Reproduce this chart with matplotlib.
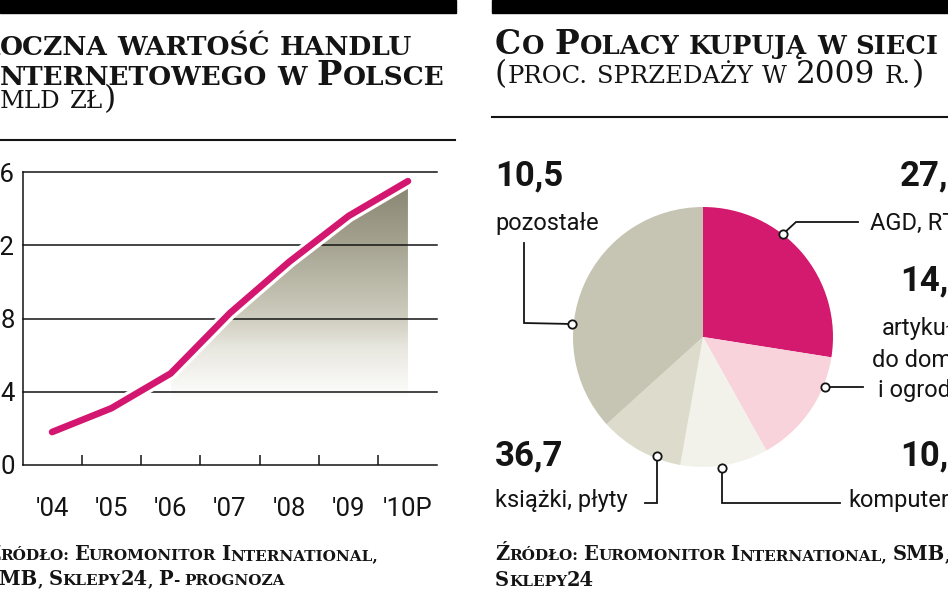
import numpy as np
import matplotlib
matplotlib.use('Agg')
import matplotlib.pyplot as plt
from matplotlib import font_manager as fm
from matplotlib.colors import LinearSegmentedColormap
from matplotlib.patches import Rectangle

# --- dane: wartość handlu internetowego (mld zł)
years = ["'04", "'05", "'06", "'07", "'08", "'09", "'10P"]
sales = [1.8, 3.1, 5.0, 8.3, 11.1, 13.6, 15.5]
yticks = [0, 4, 8, 12, 16]

# --- dane: co Polacy kupują w sieci (proc. sprzedaży 2009)
categories = ['AGD, RTV', 'artykuły do domu i ogrodu', 'komputery', 'pozostałe', 'książki, płyty']
shares = [27.5, 14.4, 10.9, 10.5, 36.7]
slice_colors = ['#d31a6e', '#f8d3dc', '#f2f2eb', '#dddccc', '#c6c5b3']

MAG = '#d3166f'
INK = '#141414'
W, H = 948, 593


def pick_font(bold):
    # krój bezszeryfowy do liczb i podpisów
    cands = [('Roboto', 'normal'), ('Roboto', None), ('Liberation Sans Narrow', None),
             ('DejaVu Sans', None)]
    for name, stretch in cands:
        for f in fm.fontManager.ttflist:
            w = f.weight if isinstance(f.weight, int) else fm.weight_dict.get(f.weight, 400)
            if f.name != name or f.style != 'normal':
                continue
            if stretch and f.stretch != stretch:
                continue
            if w != (700 if bold else 400):
                continue
            return f.fname
    return None


REG = pick_font(False)
BLD = pick_font(True)


def cfp(bold, size):
    path = BLD if bold else REG
    if path:
        return fm.FontProperties(fname=path, size=size)
    return fm.FontProperties(family='DejaVu Sans', weight='bold' if bold else 'normal', size=size)


fig = plt.figure(figsize=(W / 100, H / 100), dpi=100)
R = fig.canvas.get_renderer()

# ---------------- wykres liniowy
ax = fig.add_axes([23 / W, (H - 465) / H, 414 / W, 293 / H])
xs = np.arange(len(years))

# cieniowane pole pod linią (od '06)
poly = ax.fill_between(xs[2:], sales[2:], 0, color='none', lw=0)
cmap = LinearSegmentedColormap.from_list(
    'fill', [(0, '#ffffff'), (0.22, '#ffffff'), (0.4, '#e8e7df'), (0.5, '#cfcdbf'),
             (0.75, '#a6a491'), (1, '#82806c')])
grad = np.linspace(0, 1, 256).reshape(-1, 1)
im = ax.imshow(grad, extent=[xs[2], xs[-1], 0, 16], origin='lower', aspect='auto', cmap=cmap, zorder=1)
im.set_clip_path(poly.get_paths()[0], transform=ax.transData)

for v in yticks[1:]:
    ax.axhline(v, color=INK, lw=1.1, zorder=2, clip_on=False)

ax.plot(xs, sales, color='white', lw=9.5, solid_capstyle='round', solid_joinstyle='round', zorder=3)
ax.plot(xs, sales, color=MAG, lw=4.8, solid_capstyle='round', solid_joinstyle='round', zorder=4)

ax.set_xlim(-0.49, 6.49)
ax.set_ylim(0, 16)
for s in ['top', 'right']:
    ax.spines[s].set_visible(False)
for s in ['left', 'bottom']:
    ax.spines[s].set_color(INK)
    ax.spines[s].set_linewidth(1.1)

ax.set_xticks(xs)
ax.set_xticklabels(years)
ax.set_xticks(xs[:-1] + 0.5, minor=True)
ax.tick_params(axis='x', which='major', length=0, pad=23)
ax.tick_params(axis='x', which='minor', direction='in', length=7, width=1.1, color=INK)
ax.set_yticks(yticks)
ax.set_yticklabels([str(v) for v in yticks])
ax.tick_params(axis='y', length=0, pad=5.8)
for lbl in ax.get_xticklabels() + ax.get_yticklabels():
    lbl.set_fontproperties(cfp(False, 18.5))
    lbl.set_color(INK)

# ---------------- wykres kołowy
pa = fig.add_axes([(703 - 130) / W, (H - 337 - 130) / H, 260 / W, 260 / H])
pa.pie(shares, colors=slice_colors, startangle=90, counterclock=False,
       wedgeprops=dict(linewidth=0))
pa.set_xlim(-1, 1)
pa.set_ylim(-1, 1)
pa.set_aspect('equal')

# ---------------- warstwa opisów (piksele)
ov = fig.add_axes([0, 0, 1, 1], zorder=10)
ov.set_xlim(0, W)
ov.set_ylim(H, 0)
ov.axis('off')
ov.patch.set_alpha(0)

ov.add_patch(Rectangle((0, 0), 456, 13, color='black'))
ov.add_patch(Rectangle((492, 0), W - 492, 13, color='black'))
ov.plot([0, 455], [140, 140], color=INK, lw=1.5)
ov.plot([492, W], [117, 117], color=INK, lw=1.5)


def is_big(ch):
    return ch.isupper() or ch.isdigit() or ch in '()'


def caps(x, y, s, small, weight='bold', cut_first=False, gap=0.0):
    # kapitaliki: małe litery jako mniejsze wersaliki
    big = small * 1.28
    runs = []
    for ch in s:
        kind = 'sp' if ch == ' ' else ('up' if is_big(ch) else 'lo')
        if runs and runs[-1][0] == kind:
            runs[-1][1] += ch
        else:
            runs.append([kind, ch])
    if cut_first:
        t = ov.text(0, y, s[0].upper(), fontsize=big, family='DejaVu Serif', weight=weight)
        x -= t.get_window_extent(R).width + gap
        t.remove()
    for kind, txt in runs:
        if kind == 'sp':
            x += len(txt) * 0.33 * small * 100 / 72
            continue
        size = small if kind == 'lo' else big
        t = ov.text(x, y, txt.upper(), fontsize=size, family='DejaVu Serif', weight=weight,
                    va='baseline', ha='left', color=INK)
        x += t.get_window_extent(R).width + gap
    return x


# tytuły
caps(0, 55, 'Roczna wartość handlu', 19, cut_first=True, gap=1)
caps(0, 85, 'Internetowego w Polsce', 19, cut_first=True, gap=1)
caps(0, 108, '(mld zł)', 17.5, weight='normal', cut_first=True, gap=1)
caps(495, 54, 'Co Polacy kupują w sieci', 18.5, gap=1)
caps(495, 83, '(proc. sprzedaży w 2009 r.)', 17.5, weight='normal', gap=1)

# źródła
caps(0, 560, 'Źródło: Euromonitor International,', 11, cut_first=True)
caps(0, 585, 'SMB, Sklepy24, P- prognoza', 11, cut_first=True)
caps(495, 560, 'Źródło: Euromonitor International, SMB,', 11)
caps(495, 586, 'Sklepy24', 11)

# etykiety koła
def num(v):
    return f'{v:.1f}'.replace('.', ',')


nums = dict(zip(categories, shares))
NUMF = cfp(True, 25)
TXTF = cfp(False, 17)

ov.text(495, 185, num(nums['pozostałe']), fontproperties=NUMF, color=INK, va='baseline')
ov.text(495, 230, 'pozostałe', fontproperties=TXTF, color=INK, va='baseline')
ov.text(900, 185, num(nums['AGD, RTV']), fontproperties=NUMF, color=INK, va='baseline')
ov.text(870, 230, 'AGD, RTV', fontproperties=TXTF, color=INK, va='baseline')
ov.text(900, 290, num(nums['artykuły do domu i ogrodu']), fontproperties=NUMF, color=INK, va='baseline')
for xx, yy, line in [(882, 335, 'artykuły'), (872, 367, 'do domu'), (878, 397, 'i ogrodu')]:
    ov.text(xx, yy, line, fontproperties=TXTF, color=INK, va='baseline')
ov.text(495, 465, num(nums['książki, płyty']), fontproperties=NUMF, color=INK, va='baseline')
ov.text(495, 507, 'książki, płyty', fontproperties=TXTF, color=INK, va='baseline')
ov.text(900, 465, num(nums['komputery']), fontproperties=NUMF, color=INK, va='baseline')
ov.text(848, 507, 'komputery', fontproperties=TXTF, color=INK, va='baseline')

# odnośniki
leaders = [
    ([524, 524, 572], [243, 323, 324]),
    ([858, 796, 783], [222, 222, 234]),
    ([863, 825], [387, 387]),
    ([645, 657, 657], [503, 503, 456]),
    ([840, 722, 722], [503, 503, 468]),
]
for lx, ly in leaders:
    ov.plot(lx, ly, color=INK, lw=1.3, solid_joinstyle='miter')
    ov.plot(lx[-1], ly[-1], 'o', ms=6, mfc='white', mec=INK, mew=1.3)

fig.savefig('out.png', dpi=100, facecolor='white')
